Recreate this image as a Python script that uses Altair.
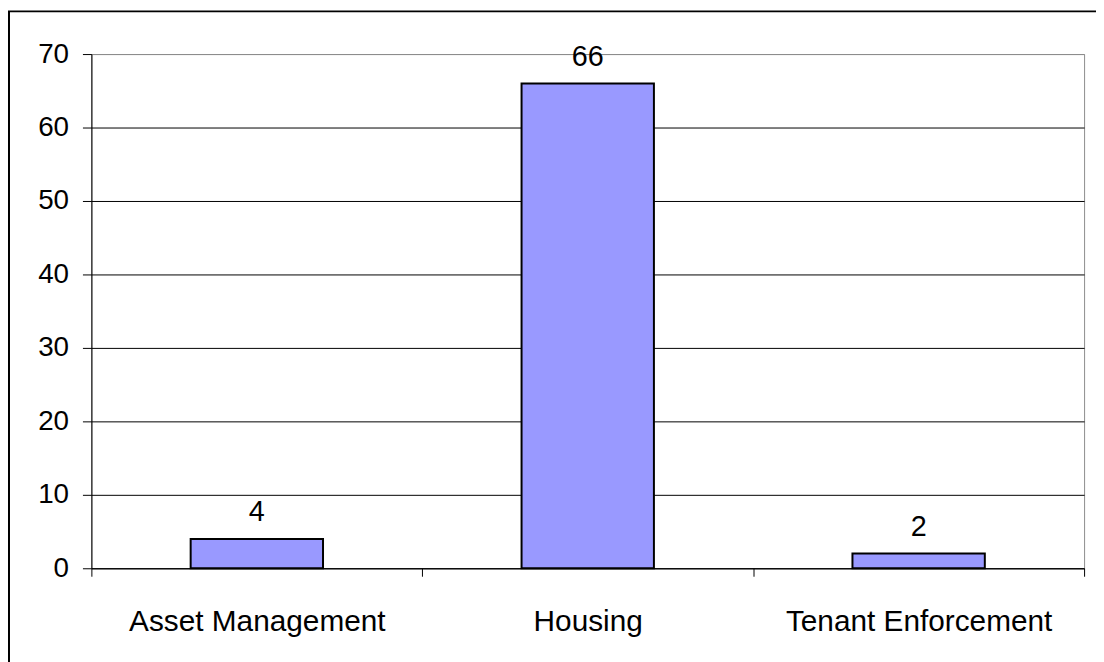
import altair as alt
import pandas as pd

categories = ["Asset Management", "Housing", "Tenant Enforcement"]
values = [4, 66, 2]
y_ticks = [0, 10, 20, 30, 40, 50, 60, 70]

df = pd.DataFrame({"category": categories, "value": values})

FONT = "Liberation Sans"

x_enc = alt.X(
    "category:N",
    sort=categories,
    scale=alt.Scale(paddingInner=0, paddingOuter=0),
    axis=alt.Axis(
        title=None,
        labelAngle=0,
        labelFontSize=30,
        labelFont=FONT,
        labelColor="black",
        labelPadding=31,
        labelLimit=0,
        tickBand="extent",
        tickSize=8,
        tickColor="black",
        domainColor="black",
        grid=False,
    ),
)
y_enc = alt.Y(
    "value:Q",
    scale=alt.Scale(domain=[0, 70], nice=False),
    axis=alt.Axis(
        title=None,
        values=y_ticks,
        labelFontSize=28,
        labelFont=FONT,
        labelColor="black",
        labelPadding=14,
        tickSize=9,
        tickColor="black",
        domainColor="black",
        grid=True,
        gridColor={"condition": {"test": "datum.value == 70", "value": "#8c8c8c"}, "value": "#000000"},
        gridWidth=1,
    ),
)

bars = alt.Chart(df).mark_bar(
    width=alt.RelativeBandSize(0.4),
    color="#9999FF",
    stroke="black",
    strokeWidth=2,
).encode(x=x_enc, y=y_enc)

labels = alt.Chart(df).mark_text(
    fontSize=29, font=FONT, color="black", baseline="bottom", dy=-12
).encode(x=alt.X("category:N", sort=categories), y="value:Q", text="value:Q")

frame = alt.Chart(pd.DataFrame({"f": [0]})).mark_rect(
    fill="transparent", stroke="black", strokeWidth=2
).encode(
    x=alt.value(-83), x2=alt.value(1200), y=alt.value(-43), y2=alt.value(700)
)

chart = (
    alt.layer(bars, labels, frame)
    .properties(
        width=1000,
        height=518,
        padding={"left": 84, "top": 44, "right": 12, "bottom": 92},
        autosize="none",
        background="white",
    )
    .configure_view(stroke="#8c8c8c", strokeWidth=1)
)

chart.save("out.html", embed_options={"renderer": "svg", "actions": False})
